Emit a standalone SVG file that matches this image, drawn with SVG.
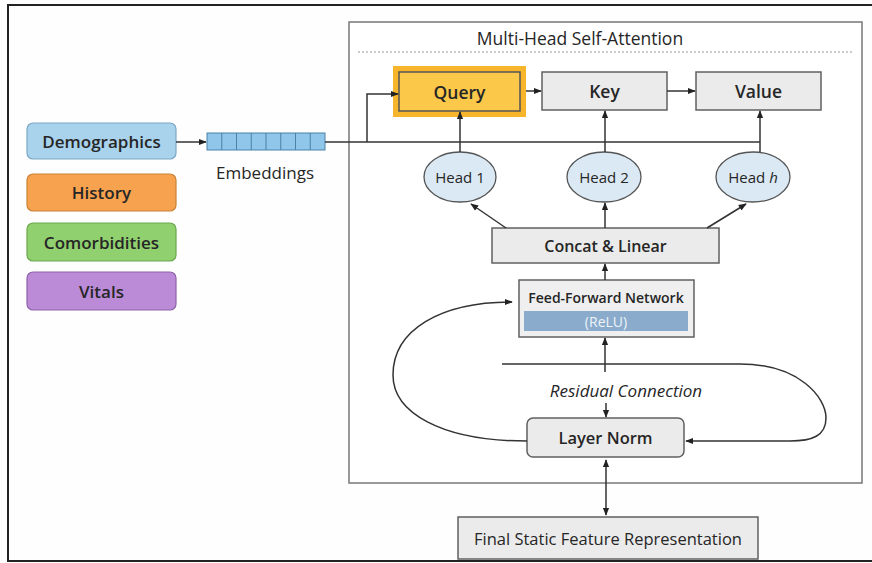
<svg xmlns="http://www.w3.org/2000/svg" width="872" height="563" viewBox="0 0 872 563">
<style>
text{font-family:"Open Sans","Noto Sans","Liberation Sans",sans-serif;fill:#262626;text-anchor:middle;dominant-baseline:central}
.b{font-weight:600}
.m{font-weight:500}
.box{fill:#ebebeb;stroke:#606060;stroke-width:1.5}
.head{fill:#dbe9f4;stroke:#555;stroke-width:1.3}
.ln{fill:none;stroke:#333;stroke-width:1.5}
.cell{fill:#8fc6ea;stroke:#4a82a8;stroke-width:1}
</style>
<defs>
<marker id="ah" viewBox="0 0 10 10" refX="9" refY="5" markerWidth="8" markerHeight="8" markerUnits="userSpaceOnUse" orient="auto-start-reverse">
<path d="M0,1 L10,5 L0,9 Z" fill="#222"/>
</marker>
</defs>
<rect x="0" y="0" width="872" height="563" fill="#fefefe"/>
<rect x="8" y="5" width="880" height="556" fill="none" stroke="#222" stroke-width="2"/>

<g id="panel">
<rect x="349" y="22" width="513" height="461" fill="#ffffff" stroke="#777" stroke-width="1.5"/>
<text x="580" y="38" class="m" font-size="17.5">Multi-Head Self-Attention</text>
<line x1="358" y1="52" x2="853" y2="52" stroke="#999" stroke-width="1.2" stroke-dasharray="2,2"/>
</g>

<g id="demographics">
<rect x="27" y="123" width="149" height="36" rx="6" fill="#a9d2ec" stroke="#7aa7c4" stroke-width="1.2"/>
<text x="101.5" y="141" class="b" font-size="17">Demographics</text>
</g>
<g id="history">
<rect x="27" y="174" width="149" height="37" rx="6" fill="#f7a24e" stroke="#c98236" stroke-width="1.2"/>
<text x="101.5" y="192.5" class="b" font-size="17">History</text>
</g>
<g id="comorbidities">
<rect x="27" y="223" width="149" height="38" rx="6" fill="#91d06f" stroke="#6aa84e" stroke-width="1.2"/>
<text x="101.5" y="242" class="b" font-size="17">Comorbidities</text>
</g>
<g id="vitals">
<rect x="27" y="272" width="149" height="38" rx="6" fill="#bb8bd8" stroke="#8d62aa" stroke-width="1.2"/>
<text x="101.5" y="291" class="b" font-size="17">Vitals</text>
</g>

<g id="embeddings">
<rect x="207" y="133" width="118" height="17" class="cell"/>
<line x1="221.75" y1="133" x2="221.75" y2="150" stroke="#4a82a8"/>
<line x1="236.5" y1="133" x2="236.5" y2="150" stroke="#4a82a8"/>
<line x1="251.25" y1="133" x2="251.25" y2="150" stroke="#4a82a8"/>
<line x1="266" y1="133" x2="266" y2="150" stroke="#4a82a8"/>
<line x1="280.75" y1="133" x2="280.75" y2="150" stroke="#4a82a8"/>
<line x1="295.5" y1="133" x2="295.5" y2="150" stroke="#4a82a8"/>
<line x1="310.25" y1="133" x2="310.25" y2="150" stroke="#4a82a8"/>
<text x="265" y="172" font-size="17">Embeddings</text>
</g>

<g id="query">
<rect x="393" y="66" width="133" height="51" fill="#f7b52c"/>
<rect x="399" y="72" width="121" height="39" fill="#fbc84a" stroke="#555" stroke-width="1.5"/>
<text x="459.5" y="91.5" class="b" font-size="17.5">Query</text>
</g>
<g id="key">
<rect x="542" y="72" width="125" height="38" class="box"/>
<text x="604.5" y="91" class="b" font-size="17.5">Key</text>
</g>
<g id="value">
<rect x="696" y="72" width="125" height="38" class="box"/>
<text x="758.5" y="91" class="b" font-size="17.5">Value</text>
</g>

<g id="head1">
<ellipse cx="460" cy="177" rx="36" ry="25" class="head"/>
<text x="460" y="177" class="m" font-size="15">Head 1</text>
</g>
<g id="head2">
<ellipse cx="604" cy="177" rx="37" ry="25" class="head"/>
<text x="604" y="177" class="m" font-size="15">Head 2</text>
</g>
<g id="headh">
<ellipse cx="753" cy="177" rx="37" ry="25" class="head"/>
<text x="753" y="177" class="m" font-size="15">Head <tspan font-style="italic">h</tspan></text>
</g>

<g id="concat">
<rect x="492" y="228" width="227" height="35" class="box"/>
<text x="605.5" y="245.5" class="b" font-size="16">Concat &amp; Linear</text>
</g>

<g id="ffn">
<rect x="519" y="280" width="175" height="57" fill="#efefef" stroke="#606060" stroke-width="1.5"/>
<text x="606" y="297" class="b" font-size="14">Feed-Forward Network</text>
<rect x="524" y="311" width="164" height="20" fill="#8aabcc"/>
<text x="606" y="321" class="m" font-size="14" style="fill:#eef3f8">(ReLU)</text>
</g>

<g id="residual-label">
<text x="626" y="390" font-size="17" font-style="italic">Residual Connection</text>
</g>

<g id="layernorm">
<rect x="527" y="418" width="157" height="39" rx="6" class="box"/>
<text x="605.5" y="437.5" class="b" font-size="16.5">Layer Norm</text>
</g>

<g id="final">
<rect x="458" y="517" width="300" height="42" class="box"/>
<text x="608" y="538" font-size="16.5">Final Static Feature Representation</text>
</g>

<g id="connectors">
<line x1="176" y1="142" x2="206" y2="142" class="ln" marker-end="url(#ah)"/>
<polyline points="325,142 760,142" class="ln"/>
<polyline points="367,142 367,94 398,94" class="ln" marker-end="url(#ah)"/>
<line x1="526" y1="91" x2="541" y2="91" class="ln" marker-end="url(#ah)"/>
<line x1="667" y1="91" x2="695" y2="91" class="ln" marker-end="url(#ah)"/>
<line x1="460" y1="152" x2="460" y2="112" class="ln" marker-end="url(#ah)"/>
<line x1="605" y1="152" x2="605" y2="111" class="ln" marker-end="url(#ah)"/>
<line x1="760" y1="152" x2="760" y2="111" class="ln" marker-end="url(#ah)"/>
<line x1="506" y1="228" x2="471" y2="204" class="ln" marker-end="url(#ah)"/>
<line x1="605" y1="228" x2="605" y2="203" class="ln" marker-end="url(#ah)"/>
<line x1="707" y1="228" x2="746" y2="204" class="ln" marker-end="url(#ah)"/>
<line x1="605" y1="280" x2="605" y2="264" class="ln" marker-end="url(#ah)"/>
<line x1="605" y1="372" x2="605" y2="338" class="ln" marker-end="url(#ah)"/>
<path d="M502,364 L740,364 C800,364 826,398 826,418 C826,436 812,441 790,441 L686,441" class="ln" marker-end="url(#ah)"/>
<path d="M527,441 C440,441 393,412 393,375 C393,330 440,302 512,302" class="ln" marker-end="url(#ah)"/>
<line x1="606" y1="403" x2="606" y2="417" class="ln" marker-end="url(#ah)"/>
<line x1="606" y1="460" x2="606" y2="515" class="ln" marker-start="url(#ah)" marker-end="url(#ah)"/>
</g>
</svg>
